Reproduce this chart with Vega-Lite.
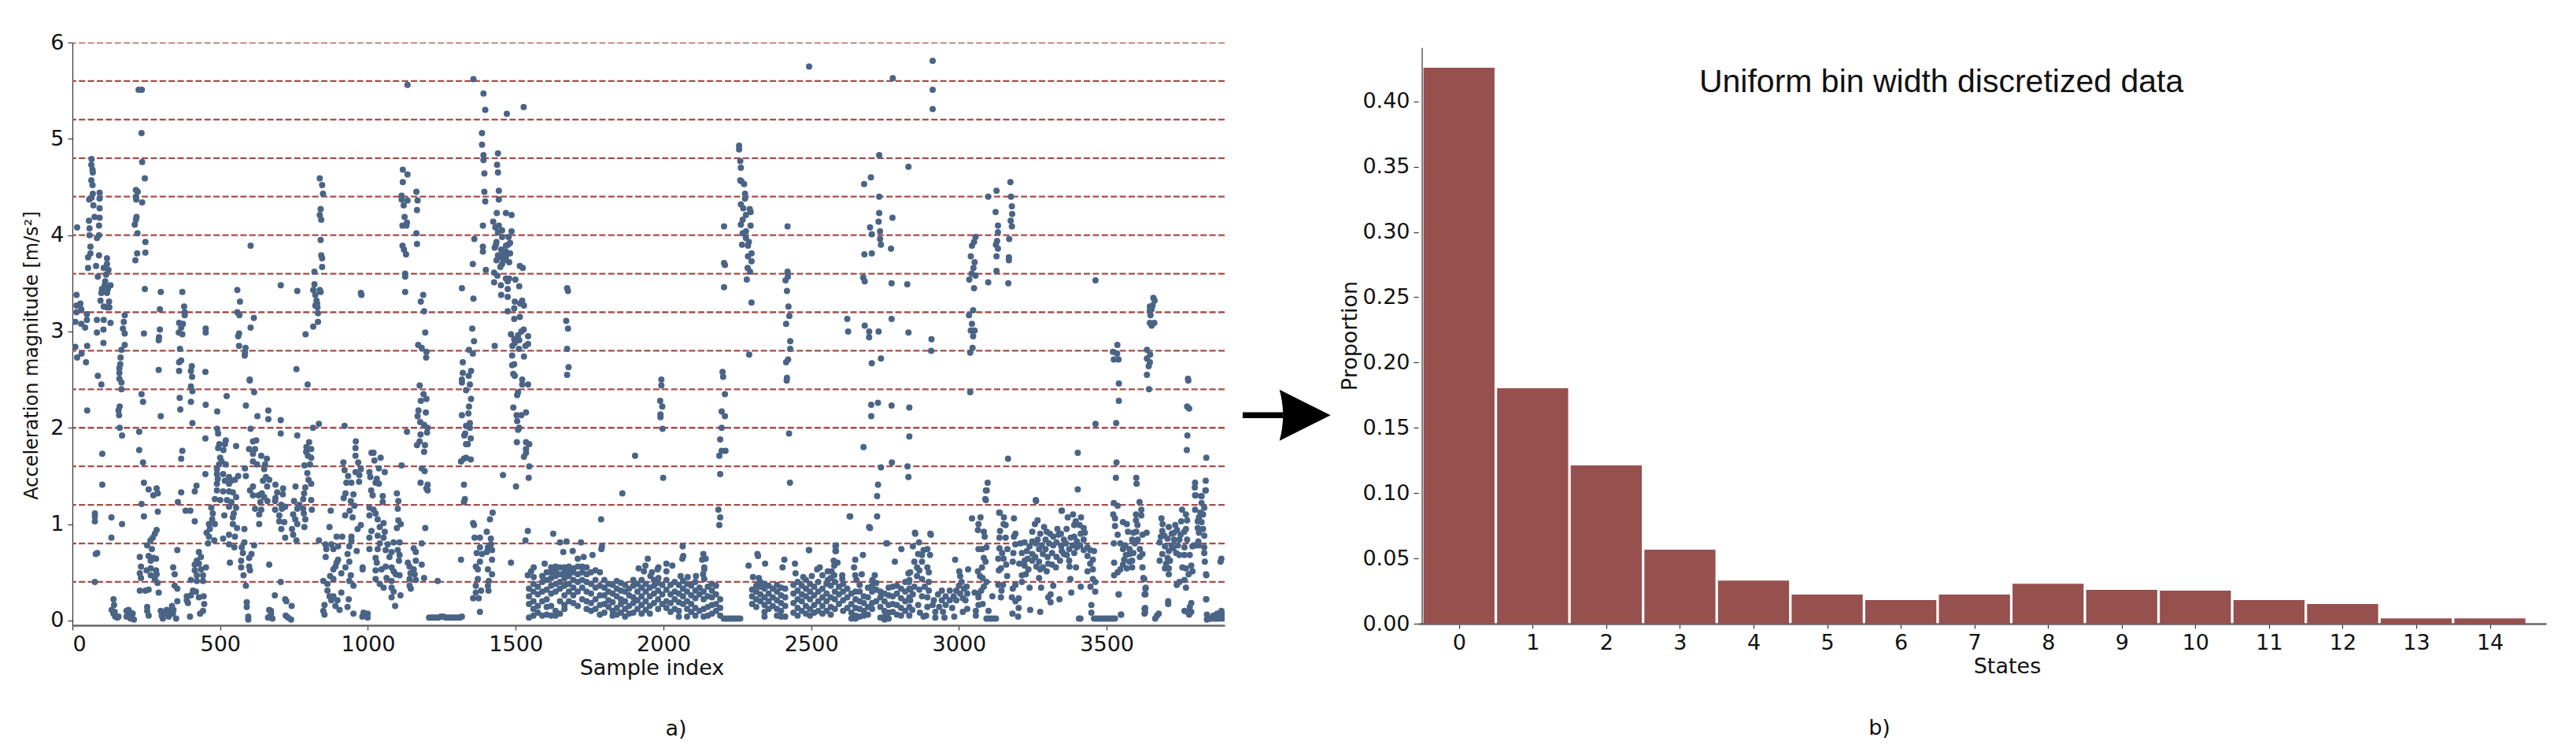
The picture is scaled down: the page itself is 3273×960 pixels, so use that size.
{"$schema":"https://vega.github.io/schema/vega-lite/v6.json","background":"white","padding":{"left":28,"top":40,"right":10,"bottom":10},"bounds":"flush","spacing":246,
"config":{"view":{"stroke":null},"font":"DejaVu Sans","axis":{"grid":false,"labelFont":"DejaVu Sans","titleFont":"DejaVu Sans","labelFontSize":27,"titleFontSize":27,"titleFontWeight":"normal","labelColor":"#111","titleColor":"#111","tickColor":"#333","tickSize":6,"tickWidth":1.2,"labelPadding":5}},
"datasets":{"bins":[{"edge":0.4},{"edge":0.8},{"edge":1.2},{"edge":1.6},{"edge":2.0},{"edge":2.4},{"edge":2.8},{"edge":3.2},{"edge":3.6},{"edge":4.0},{"edge":4.4},{"edge":4.8},{"edge":5.2},{"edge":5.6},{"edge":6.0}],
"props":[{"state":0,"proportion":0.4258},{"state":1,"proportion":0.1803},{"state":2,"proportion":0.1212},{"state":3,"proportion":0.0567},{"state":4,"proportion":0.033},{"state":5,"proportion":0.0223},{"state":6,"proportion":0.0181},{"state":7,"proportion":0.0223},{"state":8,"proportion":0.0306},{"state":9,"proportion":0.026},{"state":10,"proportion":0.0253},{"state":11,"proportion":0.0181},{"state":12,"proportion":0.0151},{"state":13,"proportion":0.004},{"state":14,"proportion":0.004}],
"pts":[
{"x":16,"y":4.08},{"x":14,"y":3.38},{"x":14,"y":3.27},{"x":27,"y":3.29},{"x":14,"y":3.2},{"x":30,"y":3.23},{"x":10,"y":3.1},{"x":30,"y":3.08},{"x":43,"y":3.04},{"x":49,"y":3.18},{"x":49,"y":3.12},{"x":10,"y":2.84},{"x":16,"y":2.73},{"x":31,"y":2.77},{"x":46,"y":2.68},{"x":50,"y":2.85},{"x":65,"y":4.79},{"x":64,"y":4.73},{"x":68,"y":4.68},{"x":69,"y":4.65},{"x":64,"y":4.57},{"x":68,"y":4.52},{"x":69,"y":4.43},{"x":57,"y":4.37},{"x":65,"y":4.39},{"x":92,"y":4.44},{"x":92,"y":4.38},{"x":71,"y":4.31},{"x":92,"y":4.28},{"x":75,"y":4.19},{"x":92,"y":4.18},{"x":56,"y":4.15},{"x":90,"y":4.1},{"x":58,"y":4.07},{"x":58,"y":4.0},{"x":90,"y":4.0},{"x":83,"y":3.97},{"x":61,"y":3.88},{"x":61,"y":3.81},{"x":53,"y":3.77},{"x":90,"y":3.79},{"x":117,"y":3.76},{"x":53,"y":3.66},{"x":80,"y":3.68},{"x":106,"y":3.66},{"x":117,"y":3.7},{"x":122,"y":3.64},{"x":114,"y":3.59},{"x":86,"y":3.57},{"x":111,"y":3.52},{"x":109,"y":3.48},{"x":129,"y":3.48},{"x":100,"y":3.44},{"x":120,"y":3.44},{"x":98,"y":3.4},{"x":117,"y":3.4},{"x":95,"y":3.32},{"x":124,"y":3.31},{"x":106,"y":3.26},{"x":125,"y":3.25},{"x":117,"y":3.25},{"x":83,"y":3.12},{"x":106,"y":3.12},{"x":129,"y":3.09},{"x":83,"y":2.99},{"x":105,"y":3.02},{"x":105,"y":2.88},
{"x":177,"y":3.17},{"x":174,"y":3.1},{"x":171,"y":3.03},{"x":177,"y":2.98},{"x":177,"y":2.86},{"x":166,"y":2.81},{"x":163,"y":2.73},{"x":162,"y":2.66},{"x":159,"y":2.62},{"x":159,"y":2.57},{"x":86,"y":2.54},{"x":159,"y":2.51},
{"x":224,"y":5.51},{"x":235,"y":5.51},{"x":234,"y":5.06},{"x":236,"y":4.76},{"x":245,"y":4.59},{"x":215,"y":4.47},{"x":221,"y":4.45},{"x":215,"y":4.4},{"x":216,"y":4.37},{"x":236,"y":4.34},{"x":217,"y":4.19},{"x":215,"y":4.16},{"x":211,"y":4.11},{"x":220,"y":4.02},{"x":247,"y":3.93},{"x":247,"y":3.82},{"x":219,"y":3.81},{"x":213,"y":3.74},{"x":245,"y":3.44},{"x":242,"y":2.98},
{"x":299,"y":3.41},{"x":296,"y":3.23},{"x":296,"y":3.02},{"x":293,"y":2.94},{"x":292,"y":2.91},{"x":292,"y":2.6},{"x":372,"y":3.41},{"x":378,"y":3.26},{"x":380,"y":3.2},{"x":380,"y":3.17},{"x":361,"y":3.09},{"x":374,"y":3.08},{"x":368,"y":3.04},{"x":360,"y":2.99},{"x":372,"y":2.97},{"x":364,"y":2.82},{"x":368,"y":2.7},{"x":361,"y":2.68},{"x":361,"y":2.59},{"x":404,"y":2.64},{"x":401,"y":2.59},{"x":405,"y":2.53},{"x":451,"y":3.03},{"x":451,"y":2.99},{"x":450,"y":2.58},
{"x":558,"y":3.43},{"x":567,"y":3.31},{"x":558,"y":3.2},{"x":565,"y":3.17},{"x":614,"y":3.14},{"x":603,"y":3.04},{"x":564,"y":2.98},{"x":561,"y":2.95},{"x":564,"y":2.85},{"x":586,"y":2.83},{"x":584,"y":2.78},{"x":583,"y":2.75},{"x":603,"y":3.89},{"x":600,"y":2.5},{"x":705,"y":3.48},{"x":761,"y":3.42},{"x":789,"y":2.97},{"x":758,"y":2.61},
{"x":837,"y":4.59},{"x":845,"y":4.52},{"x":848,"y":4.43},{"x":840,"y":4.27},{"x":837,"y":4.21},{"x":842,"y":4.16},{"x":840,"y":3.95},{"x":842,"y":3.79},{"x":845,"y":3.76},{"x":845,"y":3.67},{"x":819,"y":3.62},{"x":819,"y":3.49},{"x":815,"y":3.43},{"x":837,"y":3.43},{"x":840,"y":3.41},{"x":822,"y":3.38},{"x":826,"y":3.32},{"x":828,"y":3.29},{"x":822,"y":3.27},{"x":829,"y":3.25},{"x":831,"y":3.19},{"x":831,"y":3.1},{"x":815,"y":3.05},{"x":976,"y":3.4},{"x":978,"y":3.38},
{"x":1118,"y":4.68},{"x":1134,"y":4.63},{"x":1118,"y":4.55},{"x":1114,"y":4.41},{"x":1114,"y":4.37},{"x":1134,"y":4.36},{"x":1121,"y":4.31},{"x":1164,"y":4.45},{"x":1168,"y":4.36},{"x":1166,"y":4.26},{"x":1124,"y":4.19},{"x":1117,"y":4.1},{"x":1132,"y":4.13},{"x":1130,"y":4.1},{"x":1164,"y":4.02},{"x":1166,"y":3.91},{"x":1117,"y":3.89},{"x":1122,"y":3.85},{"x":1129,"y":3.8},{"x":1126,"y":3.6},{"x":1126,"y":3.57},{"x":1126,"y":3.41},{"x":1134,"y":5.56},{"x":1187,"y":3.38},{"x":1179,"y":3.31},{"x":1190,"y":3.21},{"x":1194,"y":2.99},{"x":1170,"y":2.86},{"x":1182,"y":2.83},{"x":1198,"y":2.79},{"x":1197,"y":2.73},
{"x":1318,"y":3.45},{"x":1357,"y":3.34},{"x":1353,"y":3.03},{"x":1359,"y":2.9},{"x":1342,"y":2.81},{"x":1355,"y":2.77},{"x":1321,"y":2.68},{"x":1349,"y":2.59},{"x":1321,"y":2.57},{"x":1341,"y":2.54},{"x":1318,"y":2.5},
{"x":1357,"y":5.62},{"x":1391,"y":5.47},{"x":1397,"y":5.3},{"x":1470,"y":5.26},{"x":1527,"y":5.33},{"x":1386,"y":5.06},{"x":1386,"y":4.94},{"x":1391,"y":4.83},{"x":1391,"y":4.78},{"x":1394,"y":4.64},{"x":1440,"y":4.85},{"x":1437,"y":4.73},{"x":1440,"y":4.65},{"x":1394,"y":4.45},{"x":1443,"y":4.46},{"x":1397,"y":4.35},{"x":1443,"y":4.37},{"x":1436,"y":4.23},{"x":1467,"y":4.23},{"x":1486,"y":4.21},{"x":1389,"y":4.1},{"x":1424,"y":4.14},{"x":1431,"y":4.08},{"x":1443,"y":4.1},{"x":1440,"y":4.03},{"x":1454,"y":4.05},{"x":1486,"y":4.04},{"x":1454,"y":3.98},{"x":1476,"y":3.98},{"x":1360,"y":3.96},{"x":1435,"y":3.93},{"x":1433,"y":3.9},{"x":1481,"y":3.92},{"x":1474,"y":3.9},{"x":1389,"y":3.88},{"x":1389,"y":3.83},{"x":1429,"y":3.87},{"x":1467,"y":3.89},{"x":1451,"y":3.85},{"x":1467,"y":3.83},{"x":1440,"y":3.79},{"x":1457,"y":3.81},{"x":1481,"y":3.81},{"x":1447,"y":3.77},{"x":1467,"y":3.77},{"x":1435,"y":3.74},{"x":1460,"y":3.74},{"x":1478,"y":3.72},{"x":1454,"y":3.7},{"x":1355,"y":3.7},{"x":1514,"y":3.68},{"x":1524,"y":3.66},{"x":1448,"y":3.67},{"x":1399,"y":3.64},{"x":1427,"y":3.61},{"x":1438,"y":3.58},{"x":1467,"y":3.55},{"x":1478,"y":3.55},{"x":1499,"y":3.54},{"x":1427,"y":3.51},{"x":1473,"y":3.52},{"x":1450,"y":3.48},{"x":1512,"y":3.47},{"x":1473,"y":3.44},{"x":1451,"y":3.38},{"x":1473,"y":3.36},{"x":1497,"y":3.31},{"x":1522,"y":3.32},{"x":1515,"y":3.29},{"x":1528,"y":3.27},{"x":1495,"y":3.24},{"x":1473,"y":3.21},{"x":1514,"y":3.15},{"x":1495,"y":3.13},{"x":1527,"y":3.02},{"x":1519,"y":3.0},{"x":1484,"y":2.97},{"x":1508,"y":2.96},{"x":1542,"y":2.95},{"x":1495,"y":2.92},{"x":1512,"y":2.91},{"x":1497,"y":2.88},{"x":1489,"y":2.85},{"x":1429,"y":2.85},{"x":1542,"y":2.87},{"x":1533,"y":2.85},{"x":1511,"y":2.82},{"x":1488,"y":2.75},{"x":1528,"y":2.74},{"x":1495,"y":2.66},{"x":1488,"y":2.65},{"x":1492,"y":2.56},{"x":1497,"y":2.54},{"x":1522,"y":2.5},{"x":1674,"y":3.45},{"x":1677,"y":3.42},{"x":1671,"y":3.11},{"x":1677,"y":3.03},{"x":1674,"y":2.82},{"x":1679,"y":2.63},{"x":1674,"y":2.55},
{"x":98,"y":2.45},{"x":166,"y":2.47},{"x":166,"y":2.4},{"x":50,"y":2.18},{"x":160,"y":2.22},{"x":156,"y":2.18},{"x":158,"y":2.13},{"x":160,"y":2.0},{"x":168,"y":1.92},{"x":101,"y":1.73},{"x":101,"y":1.41},{"x":76,"y":1.11},{"x":76,"y":1.08},{"x":76,"y":1.03},{"x":132,"y":1.07},{"x":168,"y":1.0},{"x":132,"y":0.86},{"x":84,"y":0.7},{"x":79,"y":0.69},{"x":76,"y":0.4},{"x":139,"y":0.22},{"x":141,"y":0.16},{"x":133,"y":0.11},{"x":139,"y":0.07},{"x":145,"y":0.04},{"x":152,"y":0.03},{"x":143,"y":0.09},{"x":156,"y":0.04},{"x":183,"y":0.1},{"x":190,"y":0.11},{"x":183,"y":0.04},{"x":197,"y":0.08},{"x":204,"y":0.07},{"x":197,"y":0.02},{"x":208,"y":0.01},{"x":190,"y":0.05},
{"x":234,"y":2.35},{"x":239,"y":2.27},{"x":226,"y":1.96},{"x":226,"y":1.77},{"x":239,"y":1.64},{"x":242,"y":1.43},{"x":234,"y":1.21},{"x":242,"y":1.08},{"x":299,"y":2.12},{"x":258,"y":1.36},{"x":285,"y":1.37},{"x":274,"y":1.3},{"x":289,"y":1.32},{"x":289,"y":1.13},{"x":285,"y":0.94},{"x":279,"y":0.9},{"x":272,"y":0.86},{"x":264,"y":0.83},{"x":253,"y":0.78},{"x":269,"y":0.74},{"x":228,"y":0.66},{"x":258,"y":0.67},{"x":265,"y":0.62},{"x":283,"y":0.64},{"x":274,"y":0.65},{"x":232,"y":0.56},{"x":265,"y":0.54},{"x":283,"y":0.52},{"x":228,"y":0.49},{"x":251,"y":0.52},{"x":285,"y":0.48},{"x":265,"y":0.47},{"x":232,"y":0.44},{"x":279,"y":0.43},{"x":288,"y":0.39},{"x":228,"y":0.31},{"x":247,"y":0.31},{"x":258,"y":0.32},{"x":292,"y":0.29},{"x":253,"y":0.14},{"x":253,"y":0.1},{"x":258,"y":0.05},
{"x":363,"y":2.31},{"x":401,"y":2.27},{"x":365,"y":2.19},{"x":406,"y":2.38},{"x":401,"y":2.43},{"x":406,"y":2.05},{"x":372,"y":1.76},{"x":368,"y":1.68},{"x":368,"y":1.33},{"x":357,"y":1.23},{"x":383,"y":1.14},{"x":399,"y":1.14},{"x":414,"y":1.34},{"x":420,"y":1.4},{"x":414,"y":1.03},{"x":355,"y":0.73},{"x":341,"y":0.55},{"x":346,"y":0.48},{"x":346,"y":0.36},{"x":355,"y":0.33},{"x":355,"y":0.2},{"x":387,"y":0.25},{"x":391,"y":0.18},{"x":401,"y":0.26},{"x":418,"y":0.3},{"x":408,"y":0.31},{"x":428,"y":0.24},{"x":444,"y":0.25},{"x":446,"y":0.17},{"x":442,"y":0.1},{"x":432,"y":0.07},{"x":398,"y":0.04},{"x":428,"y":0.71},{"x":435,"y":0.66},{"x":421,"y":0.62},{"x":414,"y":0.58},{"x":428,"y":0.59},{"x":452,"y":0.55},{"x":414,"y":0.52},{"x":435,"y":0.53},{"x":421,"y":0.47},{"x":442,"y":0.47},{"x":401,"y":0.42},{"x":421,"y":0.41},{"x":442,"y":0.41},{"x":299,"y":0.1},{"x":319,"y":0.11},{"x":337,"y":0.15},{"x":302,"y":0.05},{"x":313,"y":0.07},{"x":326,"y":0.1},{"x":342,"y":0.11},{"x":306,"y":0.02},{"x":326,"y":0.04},{"x":351,"y":0.02},{"x":340,"y":0.07},{"x":387,"y":0.21},
{"x":451,"y":2.24},{"x":522,"y":2.33},{"x":490,"y":2.17},{"x":587,"y":2.23},{"x":615,"y":2.37},{"x":600,"y":2.49},{"x":626,"y":2.12},{"x":663,"y":2.18},{"x":663,"y":2.09},{"x":705,"y":2.08},{"x":705,"y":1.94},{"x":761,"y":1.92},{"x":796,"y":2.45},{"x":814,"y":2.0},{"x":834,"y":2.04},{"x":921,"y":2.02},{"x":603,"y":1.99},{"x":490,"y":1.99},{"x":493,"y":1.94},{"x":450,"y":1.89},
{"x":519,"y":1.87},{"x":497,"y":1.83},{"x":516,"y":1.83},{"x":493,"y":1.79},{"x":511,"y":1.77},{"x":554,"y":1.81},{"x":500,"y":1.69},{"x":505,"y":1.65},{"x":496,"y":1.62},{"x":519,"y":1.62},{"x":489,"y":1.57},{"x":450,"y":1.52},{"x":489,"y":1.52},{"x":510,"y":1.52},{"x":561,"y":1.5},{"x":530,"y":1.49},{"x":492,"y":1.47},{"x":516,"y":1.45},{"x":537,"y":1.45},{"x":550,"y":1.46},{"x":489,"y":1.42},{"x":530,"y":1.42},{"x":489,"y":1.35},{"x":510,"y":1.34},{"x":530,"y":1.34},{"x":543,"y":1.33},{"x":554,"y":1.28},{"x":482,"y":1.26},{"x":500,"y":1.25},{"x":523,"y":1.25},{"x":538,"y":1.23},{"x":530,"y":1.18},{"x":554,"y":1.17},{"x":470,"y":1.17},{"x":475,"y":1.11},{"x":546,"y":1.11},{"x":514,"y":1.09},{"x":543,"y":1.07},{"x":473,"y":1.05},{"x":462,"y":1},{"x":482,"y":1},{"x":465,"y":0.95},{"x":543,"y":1},{"x":557,"y":0.96},{"x":582,"y":0.95},{"x":454,"y":0.91},{"x":462,"y":0.87},{"x":510,"y":0.85},{"x":530,"y":0.89},{"x":550,"y":0.87},{"x":480,"y":0.83},{"x":459,"y":0.8},{"x":530,"y":0.79},{"x":548,"y":0.76},{"x":573,"y":0.76},{"x":577,"y":0.7},{"x":606,"y":0.69},{"x":571,"y":0.62},{"x":533,"y":0.6},{"x":598,"y":0.65},{"x":571,"y":0.55},{"x":598,"y":0.56},{"x":601,"y":0.52},{"x":579,"y":0.47},{"x":587,"y":0.36},{"x":590,"y":0.19},{"x":590,"y":0.14},{"x":595,"y":0.04},{"x":595,"y":0.01},{"x":615,"y":0.78},{"x":666,"y":0.58},{"x":582,"y":0.81},
{"x":598,"y":1.78},{"x":611,"y":1.86},{"x":622,"y":1.87},{"x":618,"y":1.78},{"x":611,"y":1.73},{"x":639,"y":1.71},{"x":658,"y":1.68},{"x":611,"y":1.65},{"x":625,"y":1.62},{"x":652,"y":1.62},{"x":584,"y":1.58},{"x":649,"y":1.57},{"x":587,"y":1.5},{"x":655,"y":1.49},{"x":645,"y":1.45},{"x":666,"y":1.46},{"x":611,"y":1.39},{"x":601,"y":1.35},{"x":659,"y":1.39},{"x":687,"y":1.41},{"x":713,"y":1.37},{"x":755,"y":1.39},{"x":693,"y":1.33},{"x":641,"y":1.32},{"x":611,"y":1.3},{"x":630,"y":1.3},{"x":649,"y":1.28},{"x":687,"y":1.27},{"x":712,"y":1.31},{"x":636,"y":1.23},{"x":660,"y":1.24},{"x":686,"y":1.24},{"x":750,"y":1.24},{"x":707,"y":1.2},{"x":768,"y":1.2},{"x":720,"y":1.18},{"x":618,"y":1.16},{"x":639,"y":1.15},{"x":686,"y":1.15},{"x":709,"y":1.16},{"x":761,"y":1.16},{"x":632,"y":1.1},{"x":700,"y":1.09},{"x":747,"y":1.1},{"x":783,"y":1.11},{"x":781,"y":1.16},{"x":754,"y":1.05},{"x":788,"y":1.05},{"x":700,"y":1.03},{"x":717,"y":1.02},{"x":632,"y":1},{"x":707,"y":0.95},{"x":743,"y":0.95},{"x":785,"y":0.97},{"x":761,"y":1},{"x":747,"y":0.89},{"x":720,"y":0.86},{"x":758,"y":0.83},{"x":834,"y":0.83},
{"x":666,"y":0.11},{"x":672,"y":0.07},{"x":662,"y":0.03},{"x":677,"y":0.02},{"x":672,"y":0.1},{"x":720,"y":0.22},{"x":724,"y":0.2},{"x":742,"y":0.15},{"x":722,"y":0.05},{"x":730,"y":0.03},{"x":740,"y":0.01},{"x":685,"y":0.26},{"x":705,"y":0.4},
{"x":792,"y":1.8},{"x":801,"y":1.85},{"x":808,"y":1.78},{"x":791,"y":1.75},{"x":797,"y":1.71},{"x":808,"y":1.69},{"x":785,"y":1.61},{"x":804,"y":1.62},{"x":795,"y":1.53},{"x":799,"y":1.46},{"x":808,"y":1.42},{"x":788,"y":1.38},{"x":784,"y":1.32},{"x":781,"y":1.26},{"x":808,"y":1.25},{"x":810,"y":1.15},
{"x":1114,"y":1.61},{"x":959,"y":1.86},{"x":958,"y":1.79},{"x":958,"y":1.71},{"x":917,"y":1.64},{"x":967,"y":1.64},{"x":921,"y":1.56},{"x":958,"y":1.54},{"x":976,"y":1.57},{"x":933,"y":1.5},{"x":971,"y":1.51},{"x":927,"y":1.43},{"x":944,"y":1.43},{"x":970,"y":1.44},{"x":924,"y":1.32},{"x":951,"y":1.31},{"x":918,"y":1.27},{"x":942,"y":1.24},{"x":954,"y":1.19},{"x":938,"y":1.14},{"x":923,"y":1.09},{"x":948,"y":1.07},{"x":874,"y":1.14},{"x":976,"y":0.99},{"x":965,"y":0.95},{"x":870,"y":0.97},{"x":894,"y":0.87},{"x":913,"y":0.87},{"x":944,"y":0.87},{"x":944,"y":0.83},{"x":856,"y":0.79},{"x":876,"y":0.79},{"x":899,"y":0.77},{"x":937,"y":0.77},{"x":859,"y":0.74},{"x":883,"y":0.74},{"x":962,"y":0.72},{"x":931,"y":0.69},{"x":857,"y":0.66},{"x":899,"y":0.63},{"x":937,"y":0.61},{"x":894,"y":0.6},{"x":890,"y":0.56},{"x":924,"y":0.55},{"x":883,"y":0.53},{"x":982,"y":0.55},{"x":982,"y":0.53},{"x":910,"y":0.49},{"x":942,"y":0.47},{"x":872,"y":0.46},{"x":883,"y":0.43},{"x":937,"y":0.41},{"x":849,"y":0.41},{"x":863,"y":0.38},{"x":951,"y":0.36},{"x":863,"y":0.31},{"x":910,"y":0.29},{"x":870,"y":0.25},{"x":883,"y":0.25},{"x":935,"y":0.22},{"x":876,"y":0.21},{"x":897,"y":0.21},{"x":853,"y":0.16},{"x":890,"y":0.15},{"x":931,"y":0.14},{"x":849,"y":0.1},{"x":904,"y":0.11},{"x":853,"y":0.06},{"x":951,"y":0.07},{"x":985,"y":0.08},{"x":999,"y":0.07},{"x":981,"y":0.04},{"x":999,"y":0.03},{"x":989,"y":0.05},
{"x":1012,"y":1.74},{"x":1019,"y":1.74},{"x":1043,"y":1.69},{"x":1022,"y":1.66},{"x":1037,"y":1.58},{"x":1057,"y":1.54},{"x":1005,"y":1.54},{"x":1008,"y":1.49},{"x":1030,"y":1.47},{"x":1037,"y":1.42},{"x":1026,"y":1.43},{"x":1011,"y":1.35},{"x":1016,"y":1.3},{"x":1050,"y":1.29},{"x":1050,"y":1.23},{"x":1098,"y":1.32},{"x":1103,"y":1.24},{"x":1101,"y":1.16},{"x":1005,"y":1.17},{"x":1019,"y":1.15},{"x":1005,"y":1.09},{"x":1026,"y":1.11},{"x":1033,"y":1.05},{"x":1103,"y":1.04},{"x":1053,"y":1.01},{"x":1111,"y":1},{"x":1098,"y":0.96},{"x":1040,"y":0.97},{"x":1012,"y":0.93},{"x":1057,"y":0.92},{"x":1033,"y":0.88},{"x":1005,"y":0.86},{"x":1053,"y":0.86},{"x":1087,"y":0.81},{"x":1107,"y":0.81},{"x":1040,"y":0.8},{"x":1067,"y":0.79},{"x":1005,"y":0.74},{"x":1033,"y":0.74},{"x":1101,"y":0.73},{"x":1080,"y":0.71},{"x":1060,"y":0.73},{"x":1107,"y":0.68},{"x":1073,"y":0.66},{"x":1026,"y":0.65},{"x":1105,"y":0.62},{"x":1030,"y":0.6},{"x":1060,"y":0.56},{"x":1080,"y":0.55},{"x":1026,"y":0.52},{"x":1046,"y":0.53},{"x":1087,"y":0.51},{"x":1026,"y":0.43},{"x":1063,"y":0.44},{"x":1107,"y":0.47},{"x":1094,"y":0.48},{"x":1040,"y":0.38},{"x":1080,"y":0.41},{"x":1053,"y":0.34},{"x":1080,"y":0.34},{"x":1087,"y":0.3},{"x":1080,"y":0.24},{"x":1110,"y":0.26},{"x":1092,"y":0.15},
{"x":1175,"y":2.44},{"x":1188,"y":2.35},{"x":1179,"y":2.28},{"x":1198,"y":2.3},{"x":1171,"y":2.18},{"x":1196,"y":2.16},{"x":1168,"y":2.12},{"x":1177,"y":2.06},{"x":1190,"y":2.03},{"x":1202,"y":2},{"x":1200,"y":1.95},{"x":1178,"y":1.93},{"x":1132,"y":1.96},{"x":1175,"y":1.86},{"x":1166,"y":1.82},{"x":1193,"y":1.82},{"x":1190,"y":1.75},{"x":1182,"y":1.58},{"x":1192,"y":1.55},{"x":1178,"y":1.43},{"x":1202,"y":1.41},{"x":1198,"y":1.37},{"x":1202,"y":1.35},{"x":1194,"y":0.96},{"x":1182,"y":0.8},{"x":1155,"y":0.75},{"x":1162,"y":0.71},{"x":1135,"y":0.6},{"x":1162,"y":0.62},{"x":1182,"y":0.58},{"x":1141,"y":0.56},{"x":1155,"y":0.53},{"x":1144,"y":0.49},{"x":1158,"y":0.48},{"x":1190,"y":0.44},{"x":1141,"y":0.43},{"x":1162,"y":0.42},{"x":1141,"y":0.36},{"x":1145,"y":0.33},{"x":1236,"y":0.41},
{"x":1207,"y":0.03},{"x":1215,"y":0.03},{"x":1223,"y":0.03},{"x":1231,"y":0.03},{"x":1239,"y":0.03},{"x":1247,"y":0.04},{"x":1255,"y":0.04},{"x":1263,"y":0.03},{"x":1271,"y":0.03},{"x":1279,"y":0.03},{"x":1287,"y":0.03},{"x":1295,"y":0.03},{"x":1303,"y":0.03},{"x":1311,"y":0.03},{"x":1318,"y":0.04},
{"x":1318,"y":2.47},{"x":1345,"y":2.45},{"x":1332,"y":2.39},{"x":1349,"y":2.3},{"x":1342,"y":2.22},{"x":1340,"y":2.15},{"x":1318,"y":2.13},{"x":1332,"y":2.02},{"x":1345,"y":2.05},{"x":1329,"y":1.94},{"x":1345,"y":2},{"x":1326,"y":1.92},{"x":1348,"y":1.89},{"x":1338,"y":1.83},{"x":1332,"y":1.83},{"x":1315,"y":1.65},{"x":1332,"y":1.69},{"x":1348,"y":1.67},{"x":1325,"y":1.68},{"x":1325,"y":1.41},{"x":1328,"y":1.26},{"x":1325,"y":1.23},{"x":1315,"y":0.63},{"x":1356,"y":1.01},{"x":1359,"y":0.99},{"x":1361,"y":0.86},{"x":1379,"y":0.86},{"x":1402,"y":0.92},{"x":1422,"y":1.12},{"x":1413,"y":1.05},{"x":1416,"y":0.85},{"x":1416,"y":0.79},{"x":1379,"y":0.76},{"x":1406,"y":0.76},{"x":1420,"y":0.73},{"x":1368,"y":0.7},{"x":1386,"y":0.69},{"x":1402,"y":0.71},{"x":1420,"y":0.63},{"x":1379,"y":0.61},{"x":1365,"y":0.56},{"x":1372,"y":0.53},{"x":1406,"y":0.53},{"x":1420,"y":0.48},{"x":1372,"y":0.43},{"x":1409,"y":0.41},{"x":1365,"y":0.36},{"x":1406,"y":0.36},{"x":1383,"y":0.31},{"x":1365,"y":0.29},{"x":1408,"y":0.31},{"x":1356,"y":0.23},{"x":1375,"y":0.23},{"x":1379,"y":0.09},
{"x":1492,"y":2.21},{"x":1505,"y":2.34},{"x":1508,"y":2.37},{"x":1522,"y":2.45},{"x":1542,"y":2.45},{"x":1503,"y":2.13},{"x":1519,"y":2.13},{"x":1535,"y":2.16},{"x":1505,"y":2.07},{"x":1512,"y":2},{"x":1508,"y":1.98},{"x":1504,"y":1.85},{"x":1535,"y":1.85},{"x":1546,"y":1.83},{"x":1535,"y":1.78},{"x":1535,"y":1.74},{"x":1528,"y":1.7},{"x":1546,"y":1.6},{"x":1457,"y":1.51},{"x":1544,"y":1.48},{"x":1501,"y":1.39},{"x":1541,"y":0.93},{"x":1533,"y":0.83},{"x":1484,"y":0.6},{"x":1861,"y":1.32},{"x":1789,"y":1.05},
{"x":1627,"y":0.9},{"x":1650,"y":0.81},{"x":1672,"y":0.82},{"x":1721,"y":0.81},{"x":1661,"y":0.71},{"x":1693,"y":0.72},{"x":1710,"y":0.64},{"x":1730,"y":0.66},{"x":1760,"y":0.68},{"x":1790,"y":0.74},{"x":1792,"y":0.77},{"x":1598,"y":0.59},{"x":2065,"y":0.77},{"x":2064,"y":0.64},{"x":2067,"y":0.67},{"x":2135,"y":0.69},{"x":2131,"y":0.63},{"x":2143,"y":0.64},{"x":1947,"y":0.64},{"x":2010,"y":0.59},{"x":2030,"y":0.57},{"x":1939,"y":0.57},{"x":1916,"y":0.54},{"x":1934,"y":0.51},{"x":1983,"y":0.55},{"x":1980,"y":0.53},{"x":2010,"y":0.51},{"x":2138,"y":0.55},{"x":2138,"y":0.53},{"x":2134,"y":0.48},{"x":2110,"y":0.46},{"x":2058,"y":0.46},{"x":2082,"y":0.45},{"x":1961,"y":0.5},{"x":1956,"y":0.46},{"x":1983,"y":0.44},{"x":2138,"y":0.43},{"x":1561,"y":0.55},{"x":1552,"y":0.51},{"x":1541,"y":0.47},{"x":1561,"y":0.45},
{"x":1545,"y":0.03},{"x":1545,"y":0.17},{"x":1545,"y":0.25},{"x":1545,"y":0.33},{"x":1560,"y":0.05},{"x":1560,"y":0.12},{"x":1560,"y":0.2},{"x":1560,"y":0.3},{"x":1560,"y":0.38},{"x":1575,"y":0.08},{"x":1575,"y":0.15},{"x":1575,"y":0.27},{"x":1575,"y":0.35},{"x":1590,"y":0.05},{"x":1590,"y":0.2},{"x":1590,"y":0.3},{"x":1590,"y":0.4},{"x":1590,"y":0.46},{"x":1605,"y":0.06},{"x":1605,"y":0.14},{"x":1605,"y":0.22},{"x":1605,"y":0.32},{"x":1605,"y":0.42},{"x":1605,"y":0.5},{"x":1620,"y":0.05},{"x":1620,"y":0.15},{"x":1620,"y":0.28},{"x":1620,"y":0.36},{"x":1620,"y":0.44},{"x":1620,"y":0.5},{"x":1620,"y":0.55},{"x":1635,"y":0.05},{"x":1635,"y":0.1},{"x":1635,"y":0.3},{"x":1635,"y":0.38},{"x":1635,"y":0.46},{"x":1635,"y":0.52},{"x":1635,"y":0.56},{"x":1650,"y":0.07},{"x":1650,"y":0.2},{"x":1650,"y":0.33},{"x":1650,"y":0.4},{"x":1650,"y":0.48},{"x":1650,"y":0.55},{"x":1665,"y":0.12},{"x":1665,"y":0.16},{"x":1665,"y":0.26},{"x":1665,"y":0.36},{"x":1665,"y":0.44},{"x":1665,"y":0.5},{"x":1665,"y":0.55},{"x":1680,"y":0.2},{"x":1680,"y":0.3},{"x":1680,"y":0.38},{"x":1680,"y":0.46},{"x":1680,"y":0.52},{"x":1680,"y":0.56},{"x":1695,"y":0.18},{"x":1695,"y":0.26},{"x":1695,"y":0.34},{"x":1695,"y":0.42},{"x":1695,"y":0.5},{"x":1695,"y":0.54},{"x":1710,"y":0.15},{"x":1710,"y":0.3},{"x":1710,"y":0.4},{"x":1710,"y":0.48},{"x":1710,"y":0.56},{"x":1725,"y":0.22},{"x":1725,"y":0.34},{"x":1725,"y":0.42},{"x":1725,"y":0.5},{"x":1725,"y":0.56},{"x":1740,"y":0.12},{"x":1740,"y":0.2},{"x":1740,"y":0.3},{"x":1740,"y":0.4},{"x":1740,"y":0.48},{"x":1740,"y":0.55},{"x":1755,"y":0.1},{"x":1755,"y":0.18},{"x":1755,"y":0.28},{"x":1755,"y":0.38},{"x":1755,"y":0.5},{"x":1770,"y":0.12},{"x":1770,"y":0.22},{"x":1770,"y":0.34},{"x":1770,"y":0.42},{"x":1770,"y":0.52},{"x":1785,"y":0.06},{"x":1785,"y":0.16},{"x":1785,"y":0.26},{"x":1785,"y":0.36},{"x":1785,"y":0.5},
{"x":1800,"y":0.08},{"x":1800,"y":0.17},{"x":1800,"y":0.26},{"x":1800,"y":0.34},{"x":1800,"y":0.42},{"x":1814,"y":0.14},{"x":1814,"y":0.21},{"x":1814,"y":0.3},{"x":1814,"y":0.38},{"x":1828,"y":0.05},{"x":1828,"y":0.1},{"x":1828,"y":0.19},{"x":1828,"y":0.28},{"x":1828,"y":0.37},{"x":1842,"y":0.06},{"x":1842,"y":0.13},{"x":1842,"y":0.25},{"x":1842,"y":0.33},{"x":1842,"y":0.41},{"x":1856,"y":0.08},{"x":1856,"y":0.17},{"x":1856,"y":0.22},{"x":1856,"y":0.31},{"x":1856,"y":0.39},{"x":1870,"y":0.04},{"x":1870,"y":0.12},{"x":1870,"y":0.2},{"x":1870,"y":0.3},{"x":1870,"y":0.37},{"x":1884,"y":0.07},{"x":1884,"y":0.15},{"x":1884,"y":0.26},{"x":1884,"y":0.33},{"x":1898,"y":0.08},{"x":1898,"y":0.18},{"x":1898,"y":0.24},{"x":1898,"y":0.36},{"x":1898,"y":0.42},{"x":1912,"y":0.12},{"x":1912,"y":0.21},{"x":1912,"y":0.3},{"x":1912,"y":0.38},{"x":1926,"y":0.07},{"x":1926,"y":0.16},{"x":1926,"y":0.25},{"x":1926,"y":0.34},{"x":1926,"y":0.42},{"x":1940,"y":0.11},{"x":1940,"y":0.2},{"x":1940,"y":0.3},{"x":1940,"y":0.38},{"x":1954,"y":0.07},{"x":1954,"y":0.15},{"x":1954,"y":0.25},{"x":1954,"y":0.34},{"x":1968,"y":0.18},{"x":1968,"y":0.28},{"x":1968,"y":0.36},{"x":1968,"y":0.42},{"x":1982,"y":0.12},{"x":1982,"y":0.22},{"x":1982,"y":0.31},{"x":1982,"y":0.39},{"x":1996,"y":0.17},{"x":1996,"y":0.27},{"x":1996,"y":0.37},{"x":2010,"y":0.13},{"x":2010,"y":0.2},{"x":2010,"y":0.32},{"x":2010,"y":0.42},{"x":2024,"y":0.09},{"x":2024,"y":0.18},{"x":2024,"y":0.27},{"x":2024,"y":0.37},{"x":2038,"y":0.12},{"x":2038,"y":0.22},{"x":2038,"y":0.3},{"x":2038,"y":0.4},{"x":2052,"y":0.04},{"x":2052,"y":0.1},{"x":2052,"y":0.19},{"x":2052,"y":0.28},{"x":2052,"y":0.37},{"x":2066,"y":0.17},{"x":2066,"y":0.25},{"x":2066,"y":0.33},{"x":2066,"y":0.41},{"x":2080,"y":0.04},{"x":2080,"y":0.12},{"x":2080,"y":0.2},{"x":2080,"y":0.3},{"x":2080,"y":0.38},{"x":2094,"y":0.09},{"x":2094,"y":0.17},{"x":2094,"y":0.26},{"x":2094,"y":0.36},{"x":2108,"y":0.05},{"x":2108,"y":0.13},{"x":2108,"y":0.23},{"x":2108,"y":0.31},{"x":2108,"y":0.4},{"x":2122,"y":0.1},{"x":2122,"y":0.27},{"x":2122,"y":0.34},{"x":2136,"y":0.04},{"x":2136,"y":0.12},{"x":2136,"y":0.22},{"x":2136,"y":0.3},{"x":2150,"y":0.05},{"x":2150,"y":0.14},{"x":2150,"y":0.25},{"x":2150,"y":0.35},{"x":2164,"y":0.07},{"x":2164,"y":0.16},{"x":2164,"y":0.24},{"x":2164,"y":0.31},{"x":2164,"y":0.38},{"x":2178,"y":0.1},{"x":2178,"y":0.17},{"x":2178,"y":0.27},{"x":2178,"y":0.36},{"x":2192,"y":0.05},{"x":2192,"y":0.13},{"x":2192,"y":0.22},
{"x":2204,"y":0.02},{"x":2212,"y":0.02},{"x":2220,"y":0.02},{"x":2228,"y":0.02},{"x":2236,"y":0.02},{"x":2244,"y":0.02},{"x":2252,"y":0.02},{"x":2260,"y":0.02},
{"x":2205,"y":4.09},{"x":2420,"y":4.09},{"x":2205,"y":3.71},{"x":2208,"y":3.69},{"x":2205,"y":3.46},{"x":2256,"y":4.93},{"x":2256,"y":4.89},{"x":2260,"y":4.77},{"x":2262,"y":4.7},{"x":2260,"y":4.57},{"x":2264,"y":4.56},{"x":2273,"y":4.53},{"x":2276,"y":4.43},{"x":2276,"y":4.38},{"x":2262,"y":4.32},{"x":2270,"y":4.28},{"x":2292,"y":4.27},{"x":2295,"y":4.24},{"x":2279,"y":4.21},{"x":2268,"y":4.16},{"x":2262,"y":4.11},{"x":2295,"y":4.1},{"x":2279,"y":4.04},{"x":2268,"y":4.02},{"x":2279,"y":3.97},{"x":2266,"y":3.9},{"x":2289,"y":3.93},{"x":2286,"y":3.89},{"x":2298,"y":3.81},{"x":2286,"y":3.78},{"x":2298,"y":3.73},{"x":2285,"y":3.66},{"x":2293,"y":3.62},{"x":2282,"y":3.54},{"x":2298,"y":3.3},{"x":2290,"y":2.76},{"x":2200,"y":2.58},{"x":2202,"y":2.53},{"x":2420,"y":3.62},{"x":2421,"y":3.57},{"x":2413,"y":3.53},{"x":2418,"y":3.42},{"x":2423,"y":3.26},{"x":2426,"y":3.16},{"x":2415,"y":3.08},{"x":2429,"y":2.9},{"x":2429,"y":2.82},{"x":2422,"y":2.71},{"x":2415,"y":2.68},{"x":2418,"y":2.52},{"x":2493,"y":5.75},{"x":2622,"y":3.13},{"x":2625,"y":3},{"x":2680,"y":3.8},{"x":2705,"y":3.81},{"x":2679,"y":4.53},{"x":2702,"y":4.6},{"x":2730,"y":4.83},{"x":2829,"y":4.71},{"x":2730,"y":4.4},{"x":2730,"y":4.23},{"x":2728,"y":4.14},{"x":2699,"y":4.08},{"x":2775,"y":4.18},{"x":2733,"y":4.04},{"x":2705,"y":4.01},{"x":2733,"y":3.96},{"x":2736,"y":3.9},{"x":2770,"y":3.86},{"x":2676,"y":3.56},{"x":2681,"y":3.52},{"x":2772,"y":3.5},{"x":2825,"y":3.49},{"x":2772,"y":3.13},{"x":2681,"y":3.06},{"x":2696,"y":3},{"x":2728,"y":3},{"x":2696,"y":2.94},{"x":2829,"y":2.99},{"x":2736,"y":2.72},{"x":2705,"y":2.67},{"x":2776,"y":5.63},{"x":2911,"y":5.81},{"x":2911,"y":5.51},{"x":2911,"y":5.31},{"x":2907,"y":2.92},{"x":2906,"y":2.8},
{"x":3056,"y":3.98},{"x":3051,"y":3.93},{"x":3044,"y":3.89},{"x":3040,"y":3.78},{"x":3053,"y":3.72},{"x":3049,"y":3.66},{"x":3043,"y":3.6},{"x":3056,"y":3.58},{"x":3035,"y":3.54},{"x":3051,"y":3.45},{"x":3048,"y":3.22},{"x":3034,"y":3.17},{"x":3044,"y":3.08},{"x":3040,"y":3.01},{"x":3053,"y":3.01},{"x":3048,"y":2.95},{"x":3046,"y":2.83},{"x":3038,"y":2.78},{"x":3099,"y":4.4},{"x":3127,"y":4.46},{"x":3174,"y":4.55},{"x":3176,"y":4.4},{"x":3179,"y":4.3},{"x":3124,"y":4.24},{"x":3180,"y":4.22},{"x":3175,"y":4.15},{"x":3132,"y":4.1},{"x":3179,"y":4.09},{"x":3132,"y":4.03},{"x":3129,"y":3.94},{"x":3170,"y":3.96},{"x":3125,"y":3.9},{"x":3132,"y":3.86},{"x":3127,"y":3.78},{"x":3169,"y":3.77},{"x":3169,"y":3.74},{"x":3127,"y":3.63},{"x":3099,"y":3.51},{"x":3167,"y":3.5},{"x":3462,"y":3.53},{"x":3536,"y":2.86},{"x":3521,"y":2.79},{"x":3535,"y":2.77},{"x":3524,"y":2.71},{"x":3540,"y":2.71},{"x":3658,"y":3.35},{"x":3662,"y":3.32},{"x":3646,"y":3.26},{"x":3655,"y":3.27},{"x":3652,"y":3.23},{"x":3646,"y":3.22},{"x":3648,"y":3.17},{"x":3646,"y":3.09},{"x":3661,"y":3.09},{"x":3652,"y":3.06},{"x":3636,"y":2.81},{"x":3647,"y":2.76},{"x":3636,"y":2.72},{"x":3646,"y":2.68},{"x":3642,"y":2.64},{"x":3636,"y":2.55},{"x":3775,"y":2.51},{"x":1993,"y":2.5},
{"x":1993,"y":2.44},{"x":1989,"y":2.28},{"x":1996,"y":2.22},{"x":1990,"y":2.14},{"x":1990,"y":2.11},{"x":1997,"y":1.99},{"x":1904,"y":1.71},{"x":1999,"y":1.48},{"x":2208,"y":2.35},{"x":2197,"y":2.17},{"x":2208,"y":2.12},{"x":2197,"y":2},{"x":2192,"y":1.88},{"x":2197,"y":1.76},{"x":2210,"y":1.76},{"x":2189,"y":1.71},{"x":2192,"y":1.52},{"x":2186,"y":1.15},{"x":2192,"y":1.07},{"x":2189,"y":0.99},{"x":2425,"y":1.94},{"x":2428,"y":1.43},{"x":2417,"y":2.49},{"x":3038,"y":2.37},{"x":2703,"y":2.24},{"x":2726,"y":2.26},{"x":2772,"y":2.23},{"x":2832,"y":2.21},{"x":2703,"y":2.12},{"x":2832,"y":1.91},{"x":2677,"y":1.8},{"x":2773,"y":1.64},{"x":2736,"y":1.59},{"x":2826,"y":1.6},{"x":2829,"y":1.49},{"x":2726,"y":1.41},{"x":2723,"y":1.29},{"x":2632,"y":1.08},{"x":2723,"y":1.08},{"x":2699,"y":0.96},{"x":2757,"y":0.8},{"x":2852,"y":0.9},{"x":2905,"y":0.89},{"x":2493,"y":0.73},{"x":2584,"y":0.78},{"x":2584,"y":0.72},{"x":3462,"y":2.04},{"x":3166,"y":1.68},{"x":3402,"y":1.74},{"x":3402,"y":1.36},{"x":3261,"y":1.24},{"x":3097,"y":1.43},{"x":3094,"y":1.35},{"x":3091,"y":1.25},{"x":3348,"y":1.14},{"x":3138,"y":1.12},{"x":3532,"y":2.05},{"x":3541,"y":2.28},{"x":3541,"y":2.46},{"x":3643,"y":2.4},{"x":3776,"y":2.49},{"x":3772,"y":2.22},{"x":3779,"y":2.2},{"x":3773,"y":1.92},{"x":3771,"y":1.77},{"x":3837,"y":1.69},{"x":3533,"y":1.64},{"x":3531,"y":1.48},{"x":3600,"y":1.48},{"x":3601,"y":1.42},{"x":3799,"y":1.43},{"x":3835,"y":1.45},{"x":3798,"y":1.38},{"x":3835,"y":1.35},{"x":3801,"y":1.3},{"x":3820,"y":1.29},
{"x":2851,"y":0.91},{"x":2903,"y":0.9},{"x":2865,"y":0.81},{"x":2844,"y":0.77},{"x":2880,"y":0.73},{"x":2893,"y":0.74},{"x":2862,"y":0.69},{"x":2902,"y":0.68},{"x":2875,"y":0.68},{"x":2849,"y":0.61},{"x":2875,"y":0.61},{"x":2858,"y":0.55},{"x":2893,"y":0.55},{"x":2835,"y":0.5},{"x":2866,"y":0.52},{"x":2898,"y":0.5},{"x":2858,"y":0.46},{"x":2875,"y":0.43},{"x":2831,"y":0.4},{"x":2898,"y":0.4},{"x":2849,"y":0.35},{"x":2884,"y":0.35},{"x":2866,"y":0.32},{"x":2835,"y":0.32},{"x":2898,"y":0.31},{"x":2844,"y":0.27},{"x":2875,"y":0.25},{"x":2893,"y":0.24},{"x":2835,"y":0.21},{"x":2862,"y":0.16},{"x":2893,"y":0.14},{"x":2842,"y":0.11},{"x":2868,"y":0.08},{"x":2889,"y":0.05},{"x":2880,"y":0.04},{"x":2987,"y":0.63},{"x":3031,"y":0.53},{"x":3044,"y":1.06},{"x":3073,"y":1.07},{"x":3001,"y":0.51},{"x":3004,"y":0.46},{"x":3009,"y":0.4},{"x":3017,"y":0.33},{"x":3000,"y":0.36},{"x":3026,"y":0.35},{"x":3028,"y":0.28},{"x":2991,"y":0.31},{"x":3004,"y":0.28},{"x":3013,"y":0.23},{"x":3022,"y":0.21},{"x":3028,"y":0.12},{"x":3013,"y":0.09},{"x":2942,"y":0.31},{"x":2969,"y":0.31},{"x":2929,"y":0.27},{"x":2955,"y":0.25},{"x":2982,"y":0.25},{"x":2915,"y":0.21},{"x":2942,"y":0.21},{"x":2969,"y":0.21},{"x":2991,"y":0.21},{"x":2911,"y":0.16},{"x":2933,"y":0.14},{"x":2955,"y":0.16},{"x":2977,"y":0.13},{"x":2920,"y":0.09},{"x":2946,"y":0.09},{"x":2920,"y":0.03},{"x":2951,"y":0.03},{"x":2984,"y":0.04},
{"x":3089,"y":1.26},{"x":3091,"y":1.35},{"x":3066,"y":1},{"x":3064,"y":0.94},{"x":3084,"y":0.92},{"x":3087,"y":0.87},{"x":3066,"y":0.74},{"x":3078,"y":0.74},{"x":3093,"y":0.76},{"x":3084,"y":0.65},{"x":3090,"y":0.61},{"x":3078,"y":0.55},{"x":3064,"y":0.51},{"x":3071,"y":0.46},{"x":3080,"y":0.44},{"x":3093,"y":0.4},{"x":3084,"y":0.35},{"x":3053,"y":0.29},{"x":3066,"y":0.28},{"x":3075,"y":0.31},{"x":3066,"y":0.24},{"x":3113,"y":0.25},{"x":3080,"y":0.17},{"x":3066,"y":0.16},{"x":3057,"y":0.1},{"x":3057,"y":0.05},{"x":3100,"y":0.1},{"x":3093,"y":0.02},{"x":3101,"y":0.02},{"x":3109,"y":0.02},{"x":3117,"y":0.02},{"x":3125,"y":0.02},
{"x":3136,"y":1.12},{"x":3152,"y":1.07},{"x":3186,"y":1.06},{"x":3151,"y":1},{"x":3158,"y":0.99},{"x":3139,"y":0.93},{"x":3191,"y":0.9},{"x":3137,"y":0.86},{"x":3158,"y":0.86},{"x":3186,"y":0.87},{"x":3191,"y":0.79},{"x":3137,"y":0.75},{"x":3164,"y":0.74},{"x":3146,"y":0.7},{"x":3184,"y":0.7},{"x":3133,"y":0.64},{"x":3151,"y":0.64},{"x":3182,"y":0.61},{"x":3160,"y":0.58},{"x":3142,"y":0.54},{"x":3135,"y":0.52},{"x":3163,"y":0.46},{"x":3133,"y":0.37},{"x":3149,"y":0.37},{"x":3191,"y":0.37},{"x":3182,"y":0.33},{"x":3144,"y":0.31},{"x":3179,"y":0.24},{"x":3202,"y":0.23},{"x":3142,"y":0.24},{"x":3191,"y":0.2},{"x":3202,"y":0.13},{"x":3181,"y":0.07},{"x":3200,"y":0.04},
{"x":3208,"y":0.8},{"x":3222,"y":0.81},{"x":3248,"y":0.82},{"x":3266,"y":1.04},{"x":3257,"y":1},{"x":3248,"y":0.92},{"x":3288,"y":0.97},{"x":3297,"y":0.92},{"x":3333,"y":0.95},{"x":3337,"y":0.89},{"x":3368,"y":1.07},{"x":3386,"y":1.1},{"x":3413,"y":1.07},{"x":3395,"y":1.03},{"x":3260,"y":1.25},{"x":3347,"y":1.14},{"x":3364,"y":0.95},{"x":3390,"y":0.99},{"x":3422,"y":0.96},{"x":3426,"y":0.91},{"x":3390,"y":0.87},{"x":3399,"y":0.82},{"x":3422,"y":0.84},{"x":3266,"y":0.84},{"x":3293,"y":0.84},{"x":3319,"y":0.87},{"x":3355,"y":0.84},{"x":3239,"y":0.77},{"x":3271,"y":0.74},{"x":3293,"y":0.74},{"x":3319,"y":0.78},{"x":3346,"y":0.77},{"x":3373,"y":0.74},{"x":3399,"y":0.76},{"x":3213,"y":0.7},{"x":3248,"y":0.69},{"x":3284,"y":0.69},{"x":3315,"y":0.7},{"x":3355,"y":0.69},{"x":3422,"y":0.73},{"x":3444,"y":0.73},{"x":3457,"y":0.72},{"x":3435,"y":0.67},{"x":3453,"y":0.63},{"x":3204,"y":0.59},{"x":3222,"y":0.62},{"x":3248,"y":0.62},{"x":3271,"y":0.61},{"x":3302,"y":0.59},{"x":3342,"y":0.62},{"x":3373,"y":0.62},{"x":3444,"y":0.59},{"x":3222,"y":0.57},{"x":3284,"y":0.55},{"x":3328,"y":0.55},{"x":3374,"y":0.56},{"x":3396,"y":0.55},{"x":3235,"y":0.53},{"x":3275,"y":0.53},{"x":3297,"y":0.51},{"x":3435,"y":0.51},{"x":3453,"y":0.53},{"x":3213,"y":0.47},{"x":3226,"y":0.48},{"x":3271,"y":0.44},{"x":3377,"y":0.43},{"x":3213,"y":0.4},{"x":3453,"y":0.43},{"x":3461,"y":0.4},{"x":3319,"y":0.36},{"x":3239,"y":0.34},{"x":3278,"y":0.34},{"x":3412,"y":0.35},{"x":3445,"y":0.35},{"x":3380,"y":0.29},{"x":3461,"y":0.3},{"x":3310,"y":0.27},{"x":3302,"y":0.24},{"x":3340,"y":0.22},{"x":3310,"y":0.19},{"x":3448,"y":0.16},{"x":3241,"y":0.11},{"x":3275,"y":0.09},{"x":3448,"y":0.08},{"x":3406,"y":0.02},{"x":3411,"y":0.02},
{"x":3230,"y":0.72},{"x":3260,"y":0.8},{"x":3280,"y":0.78},{"x":3305,"y":0.8},{"x":3330,"y":0.81},{"x":3362,"y":0.8},{"x":3385,"y":0.78},{"x":3410,"y":0.78},{"x":3435,"y":0.76},{"x":3258,"y":0.66},{"x":3300,"y":0.66},{"x":3330,"y":0.66},{"x":3365,"y":0.68},{"x":3390,"y":0.7},{"x":3232,"y":0.64},{"x":3262,"y":0.56},{"x":3315,"y":0.58},{"x":3348,"y":0.72},{"x":3378,"y":0.86},{"x":3308,"y":0.9},{"x":3275,"y":0.9},{"x":3345,"y":0.9},{"x":3412,"y":0.9},{"x":3408,"y":0.99},
{"x":3457,"y":0.02},{"x":3465,"y":0.02},{"x":3473,"y":0.02},{"x":3481,"y":0.02},{"x":3489,"y":0.02},{"x":3497,"y":0.02},{"x":3505,"y":0.02},{"x":3513,"y":0.02},{"x":3521,"y":0.02},{"x":3528,"y":0.02},
{"x":3524,"y":1.22},{"x":3537,"y":1.19},{"x":3522,"y":1.1},{"x":3528,"y":1.06},{"x":3528,"y":0.98},{"x":3555,"y":1.02},{"x":3568,"y":1},{"x":3537,"y":0.89},{"x":3611,"y":1.23},{"x":3617,"y":1.15},{"x":3599,"y":1.1},{"x":3617,"y":1.09},{"x":3599,"y":1.04},{"x":3604,"y":0.99},{"x":3572,"y":0.92},{"x":3590,"y":0.91},{"x":3621,"y":0.89},{"x":3635,"y":0.91},{"x":3524,"y":0.8},{"x":3546,"y":0.8},{"x":3586,"y":0.84},{"x":3595,"y":0.8},{"x":3555,"y":0.74},{"x":3577,"y":0.74},{"x":3612,"y":0.74},{"x":3577,"y":0.69},{"x":3621,"y":0.69},{"x":3559,"y":0.63},{"x":3612,"y":0.66},{"x":3525,"y":0.6},{"x":3555,"y":0.58},{"x":3577,"y":0.61},{"x":3586,"y":0.55},{"x":3621,"y":0.55},{"x":3546,"y":0.53},{"x":3568,"y":0.54},{"x":3525,"y":0.47},{"x":3537,"y":0.5},{"x":3624,"y":0.44},{"x":3540,"y":0.27},{"x":3628,"y":0.27},{"x":3632,"y":0.34},{"x":3628,"y":0.12},{"x":3628,"y":0.07},{"x":3548,"y":0.06},{"x":3670,"y":0.05},{"x":3664,"y":0.02},{"x":3676,"y":0.07},{"x":3708,"y":0.2},{"x":3708,"y":0.17},{"x":3563,"y":0.78},{"x":3590,"y":0.7},{"x":3565,"y":0.68},{"x":3586,"y":0.62},{"x":3600,"y":0.92},{"x":3605,"y":0.84},
{"x":3685,"y":1.06},{"x":3689,"y":1},{"x":3688,"y":0.93},{"x":3683,"y":0.87},{"x":3710,"y":0.97},{"x":3732,"y":0.99},{"x":3755,"y":1.15},{"x":3752,"y":1.03},{"x":3768,"y":1.1},{"x":3772,"y":1.04},{"x":3768,"y":0.95},{"x":3762,"y":0.92},{"x":3728,"y":0.91},{"x":3750,"y":0.89},{"x":3679,"y":0.81},{"x":3706,"y":0.85},{"x":3728,"y":0.84},{"x":3746,"y":0.84},{"x":3772,"y":0.84},{"x":3697,"y":0.77},{"x":3719,"y":0.78},{"x":3741,"y":0.78},{"x":3763,"y":0.76},{"x":3790,"y":0.77},{"x":3803,"y":0.78},{"x":3688,"y":0.69},{"x":3710,"y":0.72},{"x":3746,"y":0.68},{"x":3763,"y":0.68},{"x":3781,"y":0.68},{"x":3706,"y":0.65},{"x":3679,"y":0.62},{"x":3701,"y":0.59},{"x":3714,"y":0.62},{"x":3710,"y":0.54},{"x":3697,"y":0.54},{"x":3710,"y":0.48},{"x":3756,"y":0.55},{"x":3786,"y":0.57},{"x":3768,"y":0.54},{"x":3790,"y":0.51},{"x":3777,"y":0.48},{"x":3836,"y":0.48},{"x":3737,"y":0.37},{"x":3763,"y":0.42},{"x":3768,"y":0.34},{"x":3746,"y":0.4},{"x":3832,"y":0.61},{"x":3830,"y":0.7},{"x":3830,"y":0.76},{"x":3720,"y":0.9},{"x":3738,"y":0.94},{"x":3735,"y":0.7},{"x":3725,"y":0.75},{"x":3695,"y":0.88},
{"x":3799,"y":1.3},{"x":3821,"y":1.29},{"x":3834,"y":1.35},{"x":3821,"y":1.22},{"x":3830,"y":1.17},{"x":3799,"y":1.15},{"x":3817,"y":1.12},{"x":3812,"y":1.07},{"x":3826,"y":1.1},{"x":3808,"y":1.03},{"x":3821,"y":1.02},{"x":3808,"y":0.96},{"x":3826,"y":0.95},{"x":3812,"y":0.91},{"x":3830,"y":0.88},{"x":3810,"y":0.82},{"x":3795,"y":0.78},{"x":3812,"y":0.78},{"x":3836,"y":0.22},{"x":3786,"y":0.18},{"x":3781,"y":0.14},{"x":3772,"y":0.09},{"x":3763,"y":0.1},{"x":3786,"y":0.09},{"x":3779,"y":0.06},{"x":3839,"y":0.06},{"x":3839,"y":0.01},{"x":3852,"y":0.02},{"x":3866,"y":0.02},{"x":3874,"y":0.07},{"x":3888,"y":0.1},{"x":3861,"y":0.05},{"x":3879,"y":0.02},{"x":3892,"y":0.02},{"x":3888,"y":0.64},{"x":3885,"y":0.61},{"x":3846,"y":0.02},{"x":3858,"y":0.02},{"x":3872,"y":0.02},{"x":3885,"y":0.03},{"x":3895,"y":0.06},
{"x":3541,"y":0.27},{"x":3549,"y":0.06},{"x":3631,"y":0.33},{"x":3627,"y":0.43},{"x":3631,"y":0.27},{"x":3630,"y":0.13},{"x":3630,"y":0.09},{"x":3837,"y":0.22},{"x":3837,"y":0.47},
{"x":2288,"y":0.57},{"x":2318,"y":0.69},{"x":2320,"y":0.67},{"x":2344,"y":0.59},{"x":2409,"y":0.63},{"x":2403,"y":0.55},{"x":2303,"y":0.45},{"x":2323,"y":0.44},{"x":2445,"y":0.59},{"x":2447,"y":0.49},{"x":2492,"y":0.73},{"x":2582,"y":0.77},{"x":2582,"y":0.72},{"x":2576,"y":0.62},{"x":2589,"y":0.6},{"x":2578,"y":0.57},{"x":2649,"y":0.63},{"x":2645,"y":0.55},{"x":2675,"y":0.68},{"x":2630,"y":1.08},{"x":2696,"y":0.97},{"x":2754,"y":0.8},{"x":2805,"y":0.74},{"x":2783,"y":0.61},{"x":2529,"y":0.55},{"x":2520,"y":0.53},{"x":2502,"y":0.46},{"x":2473,"y":0.45},{"x":2538,"y":0.47},{"x":2556,"y":0.51},{"x":2569,"y":0.51},{"x":2578,"y":0.47},{"x":2605,"y":0.47},{"x":2649,"y":0.47},{"x":2671,"y":0.48},{"x":2715,"y":0.47},{"x":2556,"y":0.42},{"x":2605,"y":0.43},{"x":2653,"y":0.42},{"x":2707,"y":0.42},{"x":2829,"y":0.49},
{"x":2300,"y":0.17},{"x":2300,"y":0.25},{"x":2300,"y":0.32},{"x":2314,"y":0.14},{"x":2314,"y":0.22},{"x":2314,"y":0.3},{"x":2314,"y":0.36},{"x":2328,"y":0.2},{"x":2328,"y":0.27},{"x":2328,"y":0.35},{"x":2328,"y":0.4},{"x":2342,"y":0.04},{"x":2342,"y":0.09},{"x":2342,"y":0.16},{"x":2342,"y":0.24},{"x":2342,"y":0.33},{"x":2342,"y":0.38},{"x":2356,"y":0.12},{"x":2356,"y":0.2},{"x":2356,"y":0.28},{"x":2356,"y":0.36},{"x":2370,"y":0.15},{"x":2370,"y":0.24},{"x":2370,"y":0.33},{"x":2384,"y":0.05},{"x":2384,"y":0.12},{"x":2384,"y":0.21},{"x":2384,"y":0.3},{"x":2384,"y":0.37},{"x":2398,"y":0.04},{"x":2398,"y":0.1},{"x":2398,"y":0.18},{"x":2398,"y":0.26},{"x":2398,"y":0.34},{"x":2412,"y":0.04},{"x":2412,"y":0.15},{"x":2412,"y":0.24},{"x":2412,"y":0.33},{"x":2440,"y":0.08},{"x":2440,"y":0.18},{"x":2440,"y":0.28},{"x":2440,"y":0.37},{"x":2454,"y":0.05},{"x":2454,"y":0.13},{"x":2454,"y":0.22},{"x":2454,"y":0.31},{"x":2454,"y":0.4},{"x":2468,"y":0.1},{"x":2468,"y":0.2},{"x":2468,"y":0.27},{"x":2468,"y":0.36},{"x":2482,"y":0.07},{"x":2482,"y":0.15},{"x":2482,"y":0.25},{"x":2482,"y":0.33},{"x":2482,"y":0.42},{"x":2496,"y":0.05},{"x":2496,"y":0.12},{"x":2496,"y":0.22},{"x":2496,"y":0.3},{"x":2496,"y":0.38},{"x":2510,"y":0.08},{"x":2510,"y":0.16},{"x":2510,"y":0.26},{"x":2510,"y":0.35},{"x":2524,"y":0.1},{"x":2524,"y":0.2},{"x":2524,"y":0.3},{"x":2524,"y":0.4},{"x":2538,"y":0.07},{"x":2538,"y":0.15},{"x":2538,"y":0.24},{"x":2538,"y":0.33},{"x":2552,"y":0.1},{"x":2552,"y":0.2},{"x":2552,"y":0.28},{"x":2552,"y":0.38},{"x":2566,"y":0.06},{"x":2566,"y":0.14},{"x":2566,"y":0.24},{"x":2566,"y":0.36},{"x":2566,"y":0.44},{"x":2580,"y":0.12},{"x":2580,"y":0.22},{"x":2580,"y":0.3},{"x":2580,"y":0.4},{"x":2594,"y":0.17},{"x":2594,"y":0.27},{"x":2594,"y":0.35},{"x":2608,"y":0.1},{"x":2608,"y":0.21},{"x":2608,"y":0.3},{"x":2608,"y":0.38},{"x":2622,"y":0.13},{"x":2622,"y":0.24},{"x":2622,"y":0.33},{"x":2636,"y":0.02},{"x":2636,"y":0.08},{"x":2636,"y":0.17},{"x":2636,"y":0.28},{"x":2650,"y":0.02},{"x":2650,"y":0.05},{"x":2650,"y":0.13},{"x":2650,"y":0.22},{"x":2650,"y":0.3},{"x":2664,"y":0.04},{"x":2664,"y":0.12},{"x":2664,"y":0.2},{"x":2664,"y":0.3},{"x":2664,"y":0.37},{"x":2678,"y":0.05},{"x":2678,"y":0.1},{"x":2678,"y":0.18},{"x":2678,"y":0.25},{"x":2692,"y":0.06},{"x":2692,"y":0.14},{"x":2692,"y":0.24},{"x":2692,"y":0.34},{"x":2706,"y":0.12},{"x":2706,"y":0.18},{"x":2706,"y":0.3},{"x":2706,"y":0.36},{"x":2720,"y":0.2},{"x":2720,"y":0.32},{"x":2720,"y":0.39},{"x":2734,"y":0.03},{"x":2734,"y":0.14},{"x":2734,"y":0.24},{"x":2734,"y":0.3},{"x":2748,"y":0.01},{"x":2748,"y":0.04},{"x":2748,"y":0.1},{"x":2748,"y":0.2},{"x":2748,"y":0.28},{"x":2762,"y":0.02},{"x":2762,"y":0.08},{"x":2762,"y":0.16},{"x":2762,"y":0.26},{"x":2762,"y":0.34},{"x":2776,"y":0.09},{"x":2776,"y":0.17},{"x":2776,"y":0.25},{"x":2776,"y":0.35},{"x":2790,"y":0.06},{"x":2790,"y":0.16},{"x":2790,"y":0.28},{"x":2790,"y":0.36},{"x":2804,"y":0.05},{"x":2804,"y":0.13},{"x":2804,"y":0.23},{"x":2804,"y":0.33},{"x":2818,"y":0.1},{"x":2818,"y":0.2},{"x":2818,"y":0.3},{"x":2818,"y":0.4},{"x":2832,"y":0.05},{"x":2832,"y":0.14},{"x":2832,"y":0.24},{"x":2832,"y":0.33},{"x":2832,"y":0.42}
]},
"hconcat":[
{"width":1464,"height":740,"layer":[
{"data":{"name":"bins"},"mark":{"type":"rule","clip":true,"color":"#a0453f","strokeWidth":2.3,"strokeDash":[8,3.4],"opacity":0.95},"encoding":{"y":{"field":"edge","type":"quantitative"}}},
{"data":{"name":"pts"},"mark":{"type":"circle","clip":true,"size":64,"color":"#4a6486","opacity":1},"encoding":{"x":{"field":"x","type":"quantitative","scale":{"domain":[0,3899],"nice":false},"axis":{"title":"Sample index","values":[0,500,1000,1500,2000,2500,3000,3500],"format":"d","domainColor":"#666","domainWidth":2.6,"titleX":736,"titlePadding":4}},"y":{"field":"y","type":"quantitative","scale":{"domain":[-0.05,6],"nice":false},"axis":{"title":"Acceleration magnitude [m/s²]","values":[0,1,2,3,4,5,6],"format":"d","domainColor":"#333","domainWidth":1.2,"titleFontSize":24,"titleX":-40,"titleY":397}}}},
{"data":{"values":[{"from":3960,"to":4096,"at":2.13}]},"mark":{"type":"rule","color":"black","strokeWidth":7.5,"clip":false},"encoding":{"x":{"field":"from","type":"quantitative"},"x2":{"field":"to"},"y":{"field":"at","type":"quantitative"}}},
{"data":{"values":[{"tip":4171,"at":2.13}]},"mark":{"type":"point","filled":true,"opacity":1,"color":"black","size":4225,"shape":"M-1,-1Q-0.72,0,-1,1L1,0Z","clip":false},"encoding":{"x":{"field":"tip","type":"quantitative"},"y":{"field":"at","type":"quantitative"}}},
{"data":{"values":[{"lab":"a)","px":2043,"py":-1.13}]},"mark":{"type":"text","fontSize":27,"font":"DejaVu Sans","color":"#111","clip":false},"encoding":{"x":{"field":"px","type":"quantitative"},"y":{"field":"py","type":"quantitative"},"text":{"field":"lab"}}}
]},
{"width":1433,"height":738,"data":{"name":"props"},"layer":[
{"mark":{"type":"bar","size":90.3,"color":"#96504e"},"encoding":{"x":{"field":"state","type":"quantitative","scale":{"domain":[-0.5,14.71],"nice":false},"axis":{"title":"States","values":[0,1,2,3,4,5,6,7,8,9,10,11,12,13,14],"format":"d","domainColor":"#666","domainWidth":2.6,"titleX":748,"titlePadding":4}},"y":{"field":"proportion","type":"quantitative","scale":{"domain":[0,0.4451],"nice":false},"axis":{"title":"Proportion","values":[0,0.05,0.1,0.15,0.2,0.25,0.3,0.35,0.4],"format":".2f","domain":false,"titleX":-73,"titleY":372}}}},
{"data":{"values":[{"sx":-0.5,"y0":0,"y1":0.441}]},"mark":{"type":"rule","color":"#333","strokeWidth":1.2},"encoding":{"x":{"field":"sx","type":"quantitative"},"y":{"field":"y0","type":"quantitative"},"y2":{"field":"y1"}}},
{"data":{"values":[{"lab":"Uniform bin width discretized data","px":6.55,"py":0.4143}]},"mark":{"type":"text","fontSize":41,"font":"Liberation Sans","color":"#111","clip":false},"encoding":{"x":{"field":"px","type":"quantitative"},"y":{"field":"py","type":"quantitative"},"text":{"field":"lab"}}},
{"data":{"values":[{"lab":"b)","px":5.71,"py":-0.0802}]},"mark":{"type":"text","fontSize":27,"font":"DejaVu Sans","color":"#111","clip":false},"encoding":{"x":{"field":"px","type":"quantitative"},"y":{"field":"py","type":"quantitative"},"text":{"field":"lab"}}}
]}
]}
